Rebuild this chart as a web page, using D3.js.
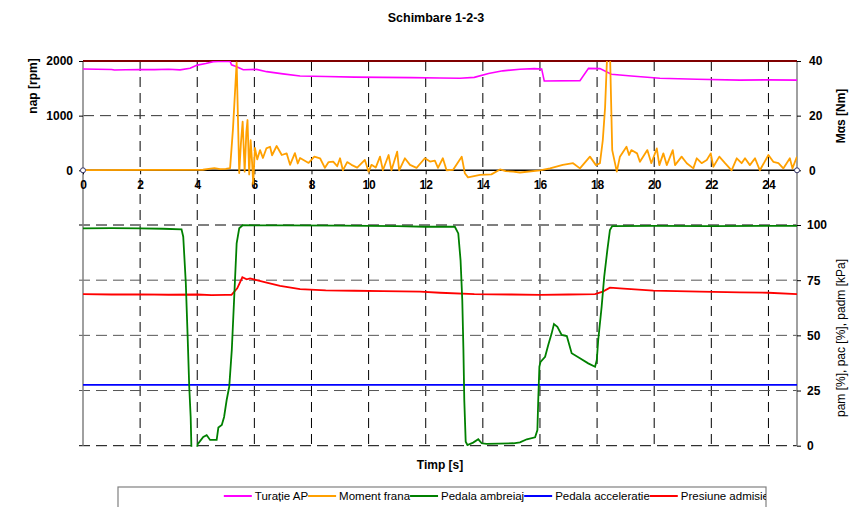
<!DOCTYPE html>
<html><head><meta charset="utf-8">
<script src="https://cdn.jsdelivr.net/npm/d3@7"></script>
<style>
html,body{margin:0;padding:0;background:#fff;}
svg{display:block;font-family:"Liberation Sans",Arial,sans-serif;}
</style></head>
<body>
<svg id="c" width="849" height="507"></svg>
<script>
// ---------------- DATA ----------------
const title = "Schimbare 1-2-3";
const xTicks = [0,2,4,6,8,10,12,14,16,18,20,22,24];
const rpmTicks = [0,1000,2000];
const nmTicks = [0,20,40];
const pctTicks = [0,25,50,75,100];
const seriesNames = ["Turație AP","Moment frana","Pedala ambreiaj","Pedala acceleratie","Presiune admisie"];

// Turatie AP [rpm]
const turatieT = [0,0.5,1.0,1.1,1.5,2.0,2.5,3.0,3.4,3.75,4.0,4.3,4.56,4.9,5.15,5.2,5.38,5.61,6.08,6.43,7.0,7.6,8.5,9.5,10.5,11.5,12.5,13.2,13.7,14.2,14.7,15.3,15.8,16.06,16.15,17.4,17.7,18.1,18.5,19.2,20.2,21.5,23.0,24.0,25];
const turatieV = [1853,1850,1845,1835,1840,1845,1842,1850,1838,1866,1925,1955,1987,1995,1993,1930,1896,1840,1847,1805,1765,1725,1715,1705,1700,1695,1690,1685,1700,1770,1820,1850,1860,1855,1635,1640,1865,1860,1757,1725,1685,1665,1650,1655,1650];

// Moment frana [Nm]
const momentT = [0,4.2,4.4,4.6,4.8,5.0,5.15,5.25,5.38,5.47,5.53,5.59,5.66,5.72,5.76,5.82,5.87,5.92,5.96,6.02,6.1,6.2,6.3,6.42,6.55,6.62,6.78,6.96,7.13,7.25,7.42,7.52,7.6,7.9,8.1,8.3,8.47,8.6,8.76,8.9,9.0,9.1,9.25,9.4,9.6,9.87,10.0,10.1,10.25,10.4,10.5,10.7,10.8,11.0,11.07,11.27,11.45,11.68,11.97,12.15,12.32,12.43,12.6,12.73,12.96,13.26,13.37,13.48,13.9,14.3,14.6,14.8,15.06,15.3,16.0,16.35,16.8,17.16,17.4,17.75,17.96,18.1,18.2,18.28,18.36,18.45,18.53,18.69,18.8,19.03,19.12,19.2,19.4,19.5,19.76,19.9,20.09,20.18,20.32,20.44,20.65,20.73,20.96,21.14,21.37,21.49,21.66,21.84,21.98,22.07,22.28,22.48,22.71,22.89,23.06,23.18,23.35,23.53,23.7,24.0,24.17,24.35,24.52,24.75,24.84,25.0];
const momentV = [0.1,0.2,0.5,0.8,0.4,0.5,0.8,15,39.5,-1,10,17.8,-0.5,14,18.4,-1.5,11,3,-5,8.2,4,7.4,4.5,8,8.6,5.5,8.9,5.6,6.2,2,6.3,2.5,4.5,2.7,5,4.4,0.9,3,3.2,1.5,4.4,0,3,2,1,3.8,-0.5,2,1,5,0,5.6,0,6.8,0,4.4,2,0.9,4.4,3.2,3.5,0.9,4.4,0,0.2,5,-1.1,-2.6,-1.7,-1.5,0.3,-0.3,-0.5,-0.8,0,0.7,2,2.6,0.7,5,1.9,2.6,11,23,44,44,7.4,-0.5,5,8.6,5.6,7.4,6.2,3.1,7.4,2.6,8,1.9,6.2,1.9,7.4,1.9,5,2.6,0.7,4.4,2.6,3.8,6.2,1.3,5,2.6,0,4.4,2.6,4.4,1.9,4.4,0,5.6,3.1,2.6,0.7,4.4,0.7,5];

// Pedala ambreiaj [%]
const ambreiajT = [0,1.0,2.0,2.8,3.45,3.51,3.6,3.66,3.72,3.77,3.8,3.98,4.01,4.21,4.33,4.45,4.68,4.74,4.86,4.94,5.03,5.12,5.21,5.29,5.38,5.47,5.59,7,9,11,12,13.02,13.14,13.22,13.28,13.32,13.35,13.4,13.46,13.66,13.84,13.96,14.13,15.07,15.3,15.54,15.83,15.91,15.94,15.98,16.02,16.18,16.29,16.41,16.49,16.61,16.76,16.94,17.11,17.4,17.69,17.93,17.99,18.04,18.16,18.25,18.36,18.45,18.53,20,22,25];
const ambreiajV = [98.5,98.6,98.5,98.3,98,94.7,73.6,51,26.7,13,-3,-3,0.6,4,4.8,2.6,2.6,8.2,9.4,13,20.7,26.7,43.4,66,91.7,98.5,99.9,99.8,99.7,99.5,99.2,99.2,96.2,84,66,43.4,20.7,1.8,0.3,1.4,2.9,1.1,0.8,1.1,1.5,2.9,3.8,7.1,20.7,35.8,38,40.3,45.6,50.9,55.1,53.9,50.2,49.7,41.9,39.6,37.3,35.8,38.8,47.9,63,76.6,88.7,97.7,99.5,99.6,99.5,99.6];

// Pedala acceleratie [%]
const acceleratieT = [0,25];
const acceleratieV = [27.6,27.6];

// Presiune admisie [kPa]
const presiuneT = [0,1,2,3,4,4.5,5.0,5.2,5.4,5.58,5.73,5.85,6.08,6.43,6.9,7.6,8.5,9.5,10.5,11.8,12.5,13.7,15,16,17,17.93,18.2,18.45,18.8,19.97,21.6,23,24,25];
const presiuneV = [68.7,68.5,68.6,68.4,68.5,68.2,68.3,68.3,71.3,76.3,75.4,75.8,75,73.9,72.4,70.9,70.4,70.2,70,69.8,69.3,68.7,68.5,68.3,68.5,68.7,69.8,71.6,71.3,70.3,69.8,69.5,69.3,68.7];

// ---------------- CHART ----------------
const svg = d3.select("#c");
const X0 = 83, X1 = 797;
const topY0 = 170.3, topY1 = 61;
const botY0 = 445.7, botY1 = 225, botTop = 178;

const x = d3.scaleLinear().domain([0,25]).range([X0,X1]);
const yRpm = d3.scaleLinear().domain([0,2000]).range([topY0,topY1]);
const yNm = d3.scaleLinear().domain([0,40]).range([topY0,topY1]);
const yPct = d3.scaleLinear().domain([0,100]).range([botY0,botY1]);

const defs = svg.append("defs");
defs.append("clipPath").attr("id","clipTop").append("rect")
  .attr("x",X0).attr("y",topY1).attr("width",X1-X0).attr("height",135);
defs.append("clipPath").attr("id","clipBot").append("rect")
  .attr("x",X0).attr("y",botTop).attr("width",X1-X0).attr("height",botY0-botTop+1);

// title
svg.append("text").attr("x",436).attr("y",22).attr("text-anchor","middle")
  .attr("font-weight","bold").attr("font-size",12.5).text(title);

// ---- bottom chart grid ----
const gB = svg.append("g");
gB.selectAll("line.vg").data(xTicks.filter(d=>d>0)).enter().append("line")
  .attr("x1",d=>x(d)).attr("x2",d=>x(d)).attr("y1",botTop).attr("y2",botY0)
  .attr("stroke","#000").attr("stroke-width",1).attr("stroke-dasharray","10,6");
gB.selectAll("line.hg").data(pctTicks).enter().append("line")
  .attr("x1",X0-4).attr("x2",X1).attr("y1",d=>yPct(d)).attr("y2",d=>yPct(d))
  .attr("stroke",(d)=>d===100||d===0?"#000":"#555").attr("stroke-width",1).attr("stroke-dasharray","11,6");

// ---- top chart grid ----
const gT = svg.append("g");
gT.selectAll("line.vg").data(xTicks.filter(d=>d>0)).enter().append("line")
  .attr("x1",d=>x(d)).attr("x2",d=>x(d)).attr("y1",topY1).attr("y2",topY0)
  .attr("stroke","#000").attr("stroke-width",1).attr("stroke-dasharray","10,6");
gT.append("line").attr("x1",X0).attr("x2",X1).attr("y1",yRpm(1000)).attr("y2",yRpm(1000))
  .attr("stroke","#333").attr("stroke-width",1).attr("stroke-dasharray","11,6");

// axes lines
svg.append("line").attr("x1",X0).attr("x2",X0).attr("y1",topY1).attr("y2",botY0)
  .attr("stroke","#808080").attr("stroke-width",1.5);
svg.append("line").attr("x1",X1).attr("x2",X1).attr("y1",topY1).attr("y2",botY0)
  .attr("stroke","#808080").attr("stroke-width",1.5);

const fmt = d3.format("d");
function styleTicks(g){
  g.select(".domain").remove();
  g.selectAll("text").attr("font-weight","bold").attr("font-size",12)
    .attr("font-family","Liberation Sans, Arial").attr("fill","#000");
}
// top-chart axes via d3
const gL = svg.append("g").attr("transform",`translate(${X0},0)`)
  .call(d3.axisLeft(yRpm).tickValues(rpmTicks).tickSize(4).tickPadding(6).tickFormat(fmt));
styleTicks(gL);
const gR = svg.append("g").attr("transform",`translate(${X1},0)`)
  .call(d3.axisRight(yNm).tickValues(nmTicks).tickSize(4).tickPadding(8).tickFormat(fmt));
styleTicks(gR);
const gR2 = svg.append("g").attr("transform",`translate(${X1},0)`)
  .call(d3.axisRight(yPct).tickValues(pctTicks).tickSize(4).tickPadding(6).tickFormat(fmt));
styleTicks(gR2);
const gX = svg.append("g").attr("transform",`translate(0,${topY0})`)
  .call(d3.axisBottom(x).tickValues(xTicks).tickSize(4).tickPadding(6).tickFormat(fmt));
styleTicks(gX);

// top border (dark red) and x axis
svg.append("line").attr("x1",X0).attr("x2",X1).attr("y1",topY1).attr("y2",topY1)
  .attr("stroke","#800000").attr("stroke-width",2);
svg.append("line").attr("x1",X0).attr("x2",X1).attr("y1",topY0).attr("y2",topY0)
  .attr("stroke","#000").attr("stroke-width",1.5);

// ---- series ----
function pts(T,V){ return T.map((t,i)=>[t,V[i]]); }
const lineRpm = d3.line().x(d=>x(d[0])).y(d=>yRpm(d[1]));
const lineNm = d3.line().x(d=>x(d[0])).y(d=>yNm(d[1]));
const linePct = d3.line().x(d=>x(d[0])).y(d=>yPct(d[1]));

const sT = svg.append("g").attr("clip-path","url(#clipTop)");
sT.append("path").attr("d",lineRpm(pts(turatieT,turatieV))).attr("fill","none")
  .attr("stroke","#ff00ff").attr("stroke-width",1.6);
sT.append("path").attr("d",lineNm(pts(momentT,momentV))).attr("fill","none")
  .attr("stroke","#ffa000").attr("stroke-width",1.8).attr("stroke-linejoin","round");

const sB = svg.append("g").attr("clip-path","url(#clipBot)");
sB.append("path").attr("d",linePct(pts(acceleratieT,acceleratieV))).attr("fill","none")
  .attr("stroke","#0000ff").attr("stroke-width",1.8);
sB.append("path").attr("d",linePct(pts(presiuneT,presiuneV))).attr("fill","none")
  .attr("stroke","#ff0000").attr("stroke-width",1.8);
sB.append("path").attr("d",linePct(pts(ambreiajT,ambreiajV))).attr("fill","none")
  .attr("stroke","#008000").attr("stroke-width",1.8);

// end markers on the top axis
svg.selectAll("circle.m").data([0,25]).enter().append("circle")
  .attr("cx",d=>x(d)).attr("cy",topY0).attr("r",2.5)
  .attr("fill","#fff").attr("stroke","#336").attr("stroke-width",1);

// axis titles
svg.append("text").attr("transform",`translate(37,86) rotate(-90)`).attr("text-anchor","middle")
  .attr("font-weight","bold").attr("font-size",12).text("nap [rpm]");
svg.append("text").attr("transform",`translate(845,116) rotate(-90)`).attr("text-anchor","middle")
  .attr("font-weight","bold").attr("font-size",12).text("Mαs [Nm]");
svg.append("text").attr("transform",`translate(845,338) rotate(-90)`).attr("text-anchor","middle")
  .attr("font-size",12).text("pam [%], pac [%], padm [kPa]");
svg.append("text").attr("x",440).attr("y",469).attr("text-anchor","middle")
  .attr("font-weight","bold").attr("font-size",12).text("Timp [s]");

// ---- legend ----
const colors = ["#ff00ff","#ffa000","#008000","#0000ff","#ff0000"];
const LX0 = 118, LX1 = 766, LY = 487;
defs.append("clipPath").attr("id","clipLeg").append("rect")
  .attr("x",LX0).attr("y",LY).attr("width",LX1-LX0).attr("height",30);
svg.append("rect").attr("x",LX0).attr("y",LY).attr("width",LX1-LX0).attr("height",30)
  .attr("fill","#fff").attr("stroke","#808080").attr("stroke-width",1.2);
const gLeg = svg.append("g").attr("clip-path","url(#clipLeg)");
const items = gLeg.selectAll("g").data(seriesNames).enter().append("g");
items.append("text").attr("y",LY+13).attr("font-size",11.5).text(d=>d);
let widths = [];
items.select("text").each(function(){ widths.push(this.getComputedTextLength()); });
const lineLen = 28, gap = 3;
const total = d3.sum(widths) + seriesNames.length*(lineLen+gap);
let cx = LX1 + 3 - total;
items.each(function(d,i){
  const g = d3.select(this);
  g.insert("line","text").attr("x1",cx).attr("x2",cx+lineLen).attr("y1",LY+9).attr("y2",LY+9)
    .attr("stroke",colors[i]).attr("stroke-width",2);
  g.select("text").attr("x",cx+lineLen+gap);
  cx += lineLen + gap + widths[i];
});
</script>
</body></html>
